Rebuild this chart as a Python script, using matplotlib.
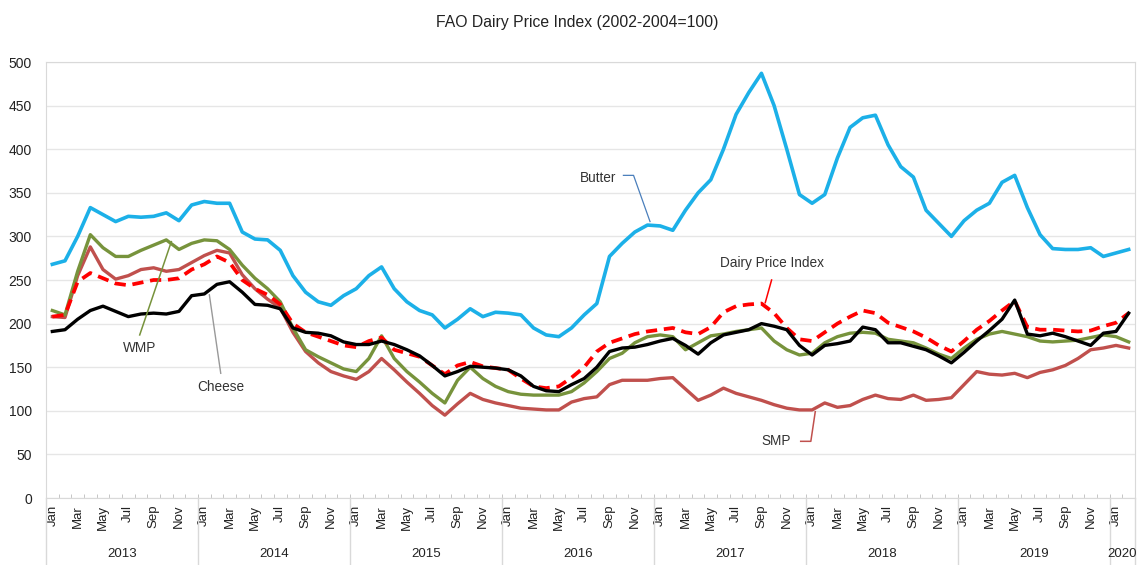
import numpy as np
import matplotlib
matplotlib.use("Agg")
import matplotlib.pyplot as plt
from matplotlib.transforms import blended_transform_factory

plt.rcParams['font.family'] = ['Liberation Sans', 'DejaVu Sans']

# monthly index values, Jan 2013 .. Feb 2020
butter = [268, 272, 300, 333, 325, 317, 323, 322, 323, 327, 318, 336,
          340, 338, 338, 305, 297, 296, 284, 255, 236, 225, 221, 232,
          240, 255, 265, 240, 225, 215, 210, 195, 205, 217, 208, 213,
          212, 210, 195, 187, 185, 195, 210, 223, 277, 292, 305, 313,
          312, 307, 330, 350, 365, 400, 440, 465, 487, 450, 400, 348,
          338, 348, 390, 425, 436, 439, 405, 380, 368, 330, 315, 300,
          318, 330, 338, 362, 370, 333, 302, 286, 285, 285, 287, 277,
          281, 285]

dairy_index = [208, 210, 248, 258, 252, 246, 244, 247, 250, 250, 252, 262,
               268, 277, 270, 250, 240, 233, 222, 200, 190, 185, 180, 175,
               173, 180, 184, 170, 166, 162, 152, 142, 152, 156, 151, 149,
               147, 137, 128, 126, 128, 138, 150, 168, 178, 183, 188, 191,
               193, 195, 190, 188, 196, 213, 220, 222, 223, 212, 195, 182,
               180, 190, 200, 208, 215, 212, 201, 196, 191, 184, 175, 168,
               180, 193, 203, 215, 226, 196, 193, 193, 192, 191, 192, 197,
               201, 212]

smp = [208, 207, 255, 288, 262, 251, 255, 262, 264, 260, 262, 270,
       278, 284, 281, 256, 240, 228, 218, 190, 168, 155, 145, 140,
       136, 145, 160, 147, 133, 120, 106, 95, 108, 120, 113, 109,
       106, 103, 102, 101, 101, 110, 114, 116, 130, 135, 135, 135,
       137, 138, 125, 112, 118, 126, 120, 116, 112, 107, 103, 101,
       101, 109, 104, 106, 113, 118, 114, 113, 118, 112, 113, 115,
       130, 145, 142, 141, 143, 138, 144, 147, 152, 160, 170, 172,
       175, 172]

wmp = [215, 210, 260, 302, 287, 277, 277, 284, 290, 296, 285, 292,
       296, 295, 285, 267, 252, 240, 225, 195, 170, 162, 155, 148,
       145, 160, 186, 160, 145, 133, 120, 109, 135, 150, 137, 128,
       122, 119, 118, 118, 118, 122, 132, 145, 160, 166, 178, 185,
       187, 185, 170, 178, 186, 188, 191, 193, 195, 180, 170, 164,
       166, 178, 185, 189, 190, 189, 182, 180, 178, 172, 165, 160,
       172, 182, 188, 191, 188, 185, 180, 179, 180, 181, 184, 187,
       185, 179]

cheese = [191, 193, 205, 215, 220, 214, 208, 211, 212, 211, 214, 232,
          234, 245, 248, 236, 222, 221, 217, 195, 190, 189, 186, 179,
          176, 176, 180, 176, 170, 163, 152, 140, 145, 151, 150, 149,
          147, 140, 128, 123, 122, 130, 137, 150, 168, 172, 173, 176,
          180, 183, 175, 165, 178, 187, 190, 193, 200, 197, 193, 175,
          164, 175, 177, 180, 196, 193, 178, 178, 174, 170, 163, 155,
          167, 180, 192, 205, 227, 188, 186, 189, 185, 180, 175, 189,
          191, 212]

years = ['2013', '2014', '2015', '2016', '2017', '2018', '2019', '2020']
month_names = ['Jan', 'Mar', 'May', 'Jul', 'Sep', 'Nov']

n = len(butter)
x = np.arange(n)

fig = plt.figure(figsize=(11.39, 5.65), dpi=100)
ax = fig.add_axes([46 / 1139, 1 - 498 / 565, (1135 - 46) / 1139, (498 - 62) / 565])

ax.plot(x, smp, color='#c0504d', lw=2.4, solid_joinstyle='round', zorder=3)
ax.plot(x, wmp, color='#77933c', lw=2.4, solid_joinstyle='round', zorder=3)
ax.plot(x, dairy_index, color='#ff0000', lw=2.7, dashes=(3, 1.8), zorder=4)
ax.plot(x, cheese, color='#000000', lw=2.4, solid_joinstyle='round', zorder=5)
ax.plot(x, butter, color='#1cb0e8', lw=2.6, solid_joinstyle='round', zorder=5)

ax.set_xlim(-0.5, n - 0.5)
ax.set_ylim(0, 500)
ax.set_yticks(range(0, 501, 50))
ax.grid(axis='y', color='#e6e6e6', lw=1)
ax.set_axisbelow(True)
for s in ax.spines.values():
    s.set_color('#d9d9d9')
ax.tick_params(axis='y', length=0, pad=10, labelsize=10, labelcolor='#222222')

ticks = list(range(0, n, 2))
ax.set_xticks(ticks)
ax.set_xticklabels([month_names[(t % 12) // 2] for t in ticks], rotation=90,
                   fontsize=9.5, color='#222222')
ax.set_xticks(np.arange(-0.5, n, 1), minor=True)
ax.tick_params(axis='x', which='major', length=0, pad=5)
ax.tick_params(axis='x', which='minor', direction='in', length=3, color='#bbbbbb')

trans = blended_transform_factory(ax.transData, ax.transAxes)
for i, yr in enumerate(years):
    start = i * 12 - 0.5
    end = min(start + 12, n - 0.5)
    ax.text((start + end) / 2, -0.128, yr, transform=trans, ha='center', va='center',
            fontsize=9.5, color='#222222')
for b in [-0.5] + [i * 12 - 0.5 for i in range(1, 8)] + [n - 0.5]:
    ax.plot([b, b], [0, -0.16], transform=trans, color='#d9d9d9', lw=1, clip_on=False)

# labels with leader lines
ax.text(43.1, 367, 'Butter', ha='center', va='center', fontsize=9.8, color='#333333')
ax.plot([45.1, 45.9, 47.2], [370, 370, 317], color='#4a7ebb', lw=0.9, zorder=6)
ax.text(56.8, 269, 'Dairy Price Index', ha='center', va='center', fontsize=9.8, color='#333333')
ax.plot([56.8, 56.3], [250, 224], color='#ff0000', lw=1.1, zorder=6)
ax.text(57.2, 65, 'SMP', ha='center', va='center', fontsize=9.8, color='#333333')
ax.plot([59.1, 59.9, 60.25], [65, 65, 99], color='#c0504d', lw=1.1, zorder=6)
ax.text(6.9, 172, 'WMP', ha='center', va='center', fontsize=9.8, color='#333333')
ax.plot([6.9, 9.4], [187, 294], color='#77933c', lw=1.1, zorder=6)
ax.text(13.3, 127, 'Cheese', ha='center', va='center', fontsize=9.8, color='#333333')
ax.plot([13.3, 12.4], [143, 233], color='#999999', lw=1.0, zorder=6)

fig.text(0.507, 0.961, 'FAO Dairy Price Index (2002-2004=100)', ha='center', va='center',
         fontsize=11.3, color='#222222')

fig.savefig('out.png', dpi=100)
